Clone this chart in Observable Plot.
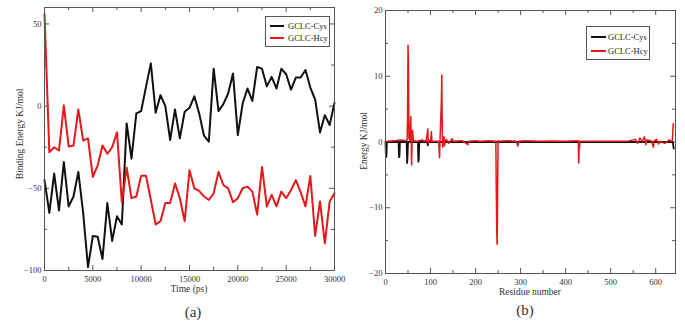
<!DOCTYPE html>
<html>
<head>
<meta charset="utf-8">
<script src="https://cdn.jsdelivr.net/npm/d3@7"></script>
<script src="https://cdn.jsdelivr.net/npm/@observablehq/plot@0.6"></script>
<style>
  html, body { margin: 0; padding: 0; background: #fff; }
  #root { position: relative; width: 685px; height: 324px; overflow: hidden; font-family: "Liberation Serif", serif; color: #222; }
  .panel { position: absolute; top: 0; }
  .txt { position: absolute; white-space: nowrap; font-family: "Liberation Serif", serif; color: #333; }
  .legend { position: absolute; border: 1px solid #555; background: #fff; box-sizing: border-box; font-family: "Liberation Serif", serif; font-size: 8.5px; color: #222; }
</style>
</head>
<body>
<div id="root"></div>
<script>
// ---------- Panel (a): binding energy vs time ----------
const timeA = [0, 500, 1000, 1500, 2000, 2500, 3000, 3500, 4000, 4500,
  5000, 5500, 6000, 6500, 7000, 7500, 8000, 8500, 9000, 9500,
  10000, 10500, 11000, 11500, 12000, 12500, 13000, 13500, 14000, 14500,
  15000, 15500, 16000, 16500, 17000, 17500, 18000, 18500, 19000, 19500,
  20000, 20500, 21000, 21500, 22000, 22500, 23000, 23500, 24000, 24500,
  25000, 25500, 26000, 26500, 27000, 27500, 28000, 28500, 29000, 29500, 30000];
const cysA = [-45, -65, -41, -63.5, -34, -61, -55, -40, -65, -98,
  -79, -79.5, -93, -59, -82, -67, -72, -10.5, -32, -4.4,
  -3, 11.7, 26, -4, 6.7, 0, -20.6, -2, -19.6, -3.4,
  -1, 6, -4.4, -18, -21.6, 22.8, -3, 1.2, 7.7, 19.8,
  -17.6, 1.6, 10.7, 3.2, 23.8, 22.8, 12, 17.8, 10.7, 22.8,
  19.4, 10, 17.4, 17.4, 22, 11.3, 4, -16, -5.5, -11.5, 2];
const hcyA = [56, -28, -25, -27, 0.5, -24.5, -24, -2, -21, -19.6,
  -43, -36, -24, -29, -25, -16, -58.5, -37.5, -56, -55,
  -42.4, -42.4, -57, -72, -70, -59, -59, -47, -56, -70,
  -39, -50, -51.5, -55, -57, -53, -40, -48, -50, -58.5,
  -56, -50, -49, -52, -66, -37, -61, -54, -61, -52,
  -56, -51, -45, -52.5, -61, -42.5, -79, -58, -83.5, -58, -53];
const xMajorA = [0, 5000, 10000, 15000, 20000, 25000, 30000];
const xMinorA = [2500, 7500, 12500, 17500, 22500, 27500];
const yMajorA = [-100, -50, 0, 50];
const yMinorA = [-75, -25, 25];

// ---------- Panel (b): per-residue energy ----------
const resCys = [0, 1, 2, 3, 29, 30, 31, 32, 47, 48, 49, 50, 72, 73, 74, 75, 93, 94, 95, 200, 400, 600, 638, 640];
const eCys   = [0, -2.3, -2.2, 0, 0, -2.3, -2.2, 0, 0, -3.2, -2, 0, 0, -3, -2.5, 0, 0, -0.5, 0, 0, 0, 0, 0, -1];
const resHcy = [0, 3, 20, 35, 45, 48, 49, 50, 51, 52, 53, 54, 56, 57, 58, 59, 60, 61, 62, 70, 80, 90,
  94, 95, 96, 100, 102, 103, 110, 118, 120, 121, 124, 125, 126, 127, 128, 130, 131, 132, 135, 140, 148, 150,
  170, 183, 185, 200, 210, 230, 245, 246, 247, 248, 249, 250, 252, 270, 290, 294, 296, 310, 340, 370, 400,
  428, 429, 430, 431, 432, 450, 500, 540, 555, 560, 565, 570, 575, 578, 580, 590, 595, 597, 602, 606, 610,
  620, 630, 636, 637, 639];
const eHcy   = [0, 0.1, 0.2, 0.3, 0.2, 0.3, 4, 14.7, 12, 0.5, 2, 0.2, 3.9, 0.5, -3.5, 0.2, 1.8, 1, 0.2, 0.1, 0.3, 0.1,
  2, -0.3, 0.3, 0.2, 1.6, 0.1, 0.1, 0.1, -2.4, 0.1, 6, 10.2, 2, -0.8, 0.1, 0.8, -0.6, 0.1, 0.4, -0.2, 0.5, 0.1,
  0.2, -0.4, 0.1, 0.2, 0.1, 0.2, 0.1, -7, -13.5, -15.6, -7, 0.2, 0.1, 0.2, 0.1, -0.6, 0.1, 0.2, 0.1, 0.15, 0.1,
  0.2, -3.2, -1, -0.8, 0.1, 0.1, 0.1, 0.15, 0.4, -0.2, 0.6, 0.1, 0.8, -0.4, 0.3, 0.2, -0.8, 0.2, 0.4, -0.3, 0.1,
  -0.2, 0.3, 0.1, 0.2, 2.8];
const xMajorB = [0, 100, 200, 300, 400, 500, 600];
const xMinorB = [50, 150, 250, 350, 450, 550];
const yMajorB = [-20, -10, 0, 10, 20];
const yMinorB = [-15, -5, 5, 15];

const seriesNames = ["GCLC-Cys", "GCLC-Hcy"];
const colors = ["#111111", "#e3191b"];

// ---------- helpers ----------
function inwardTicks(xs, ys, innerW, innerH, len, color) {
  return [
    Plot.tickX(xs, {x: d => d, insetTop: innerH - len, stroke: color, strokeWidth: 1}),
    Plot.tickX(xs, {x: d => d, insetBottom: innerH - len, stroke: color, strokeWidth: 1}),
    Plot.tickY(ys, {y: d => d, insetRight: innerW - len, stroke: color, strokeWidth: 1}),
    Plot.tickY(ys, {y: d => d, insetLeft: innerW - len, stroke: color, strokeWidth: 1})
  ];
}

const root = document.getElementById("root");
const fmt = d3.format("d");
const baseStyle = {fontFamily: "Liberation Serif, serif", fontSize: "8.5px", background: "transparent", color: "#333", overflow: "visible"};

// Panel A
{
  const W = 345, H = 300, mL = 44, mR = 11, mT = 7, mB = 30;
  const iW = W - mL - mR, iH = H - mT - mB;
  const data = timeA.map((t, i) => ({t, cys: cysA[i], hcy: hcyA[i]}));
  const p = Plot.plot({
    width: W, height: H, marginLeft: mL, marginRight: mR, marginTop: mT, marginBottom: mB,
    style: baseStyle,
    x: {domain: [0, 30000], ticks: xMajorA, tickSize: 0, tickPadding: 5, tickFormat: fmt, label: null},
    y: {domain: [-100, 60], ticks: yMajorA, tickSize: 0, tickPadding: 3, tickFormat: fmt, label: null},
    marks: [
      ...inwardTicks(xMajorA, yMajorA, iW, iH, 5, "#555"),
      ...inwardTicks(xMinorA, yMinorA, iW, iH, 3, "#555"),
      Plot.line(data, {x: "t", y: "cys", stroke: colors[0], strokeWidth: 2}),
      Plot.line(data, {x: "t", y: "hcy", stroke: colors[1], strokeWidth: 2}),
      Plot.frame({stroke: "#555", strokeWidth: 1})
    ]
  });
  p.classList.add("panel");
  p.style.left = "0px";
  root.appendChild(p);
}

// Panel B
{
  const W = 345, H = 303, mL = 45, mR = 10, mT = 10, mB = 30;
  const iW = W - mL - mR, iH = H - mT - mB;
  const cys = resCys.map((r, i) => ({r, e: eCys[i]}));
  const hcy = resHcy.map((r, i) => ({r, e: eHcy[i]}));
  const p = Plot.plot({
    width: W, height: H, marginLeft: mL, marginRight: mR, marginTop: mT, marginBottom: mB,
    style: baseStyle,
    x: {domain: [0, 644], ticks: xMajorB, tickSize: 0, tickPadding: 5, tickFormat: fmt, label: null},
    y: {domain: [-20, 20], ticks: yMajorB, tickSize: 0, tickPadding: 3, tickFormat: fmt, label: null},
    marks: [
      ...inwardTicks(xMajorB, yMajorB, iW, iH, 5, "#555"),
      ...inwardTicks(xMinorB, yMinorB, iW, iH, 3, "#555"),
      Plot.line(cys, {x: "r", y: "e", stroke: colors[0], strokeWidth: 1.8}),
      Plot.line(hcy, {x: "r", y: "e", stroke: colors[1], strokeWidth: 1.5}),
      Plot.frame({stroke: "#555", strokeWidth: 1})
    ]
  });
  p.classList.add("panel");
  p.style.left = "340px";
  root.appendChild(p);
}

// ---------- texts ----------
function addText(str, cx, cy, size, rotate) {
  const d = document.createElement("div");
  d.className = "txt";
  d.textContent = str;
  d.style.fontSize = size + "px";
  d.style.left = cx + "px";
  d.style.top = cy + "px";
  d.style.transform = "translate(-50%, -50%)" + (rotate ? " rotate(-90deg)" : "");
  d.style.lineHeight = "1";
  root.appendChild(d);
}
addText("Binding Energy KJ/mol", 21, 134, 9.5, true);
addText("Time (ps)", 189, 290, 9.5, false);
addText("(a)", 193, 312, 15, false);
addText("Energy KJ/mol", 365, 141, 9.5, true);
addText("Residue number", 530, 293, 9.5, false);
addText("(b)", 525, 310, 15, false);

// ---------- legends ----------
function addLegend(left, top, w, h, swL, swW, textL, rowYs) {
  const lg = document.createElement("div");
  lg.className = "legend";
  lg.style.left = left + "px"; lg.style.top = top + "px";
  lg.style.width = w + "px"; lg.style.height = h + "px";
  seriesNames.forEach((name, i) => {
    const sw = document.createElement("div");
    sw.style.position = "absolute";
    sw.style.left = swL + "px"; sw.style.width = swW + "px";
    sw.style.top = (rowYs[i] - 1) + "px"; sw.style.height = "2px";
    sw.style.background = colors[i];
    lg.appendChild(sw);
    const t = document.createElement("div");
    t.style.position = "absolute";
    t.style.left = textL + "px";
    t.style.top = (rowYs[i] - 5) + "px";
    t.style.lineHeight = "10px";
    t.style.whiteSpace = "nowrap";
    t.textContent = name;
    lg.appendChild(t);
  });
  root.appendChild(lg);
}
addLegend(265, 16, 65, 31, 4, 14, 22, [9, 21]);
addLegend(586, 26, 64, 34, 4, 15, 21, [10, 24]);
</script>
</body>
</html>
